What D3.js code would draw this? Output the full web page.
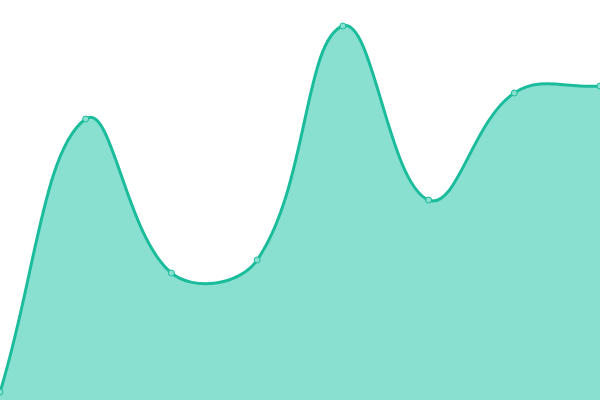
<!DOCTYPE html>
<html lang="en">

<head>
  <meta charset="UTF-8">
  <title>Area</title>
  <style>
    html,
    body {
      margin: 0;
      background: #fff;
    }

    svg {
      display: block;
    }
  </style>
</head>

<body>
  <svg id="chart" width="600" height="400"></svg>
  <script src="https://cdn.jsdelivr.net/npm/d3@7"></script>
  <script>
    // data
    var labels = ['1', '2', '3', '4', '5', '6', '7', '8']
    var values = [2, 70.25, 31.75, 35, 93.5, 50, 76.75, 78.5]

    var width = 600
    var height = 400

    // spline with distance weighted tangents (tension 0.4)
    function SplineCurve(context) {
      this._context = context
      this._t = 0.4
    }
    SplineCurve.prototype = {
      areaStart: function () { this._line = 0 },
      areaEnd: function () { this._line = NaN },
      lineStart: function () { this._pts = [] },
      point: function (x, y) { this._pts.push([+x, +y]) },
      lineEnd: function () {
        var p = this._pts, n = p.length, c = this._context, t = this._t
        if (n) {
          if (this._line) c.lineTo(p[0][0], p[0][1])
          else c.moveTo(p[0][0], p[0][1])
        }
        var cps = p.map((cur, i) => {
          var prev = p[i - 1] || cur
          var next = p[i + 1] || cur
          var d01 = Math.hypot(cur[0] - prev[0], cur[1] - prev[1])
          var d12 = Math.hypot(next[0] - cur[0], next[1] - cur[1])
          var s01 = d01 / (d01 + d12) || 0
          var s12 = d12 / (d01 + d12) || 0
          var fa = t * s01, fb = t * s12
          return {
            before: [cur[0] - fa * (next[0] - prev[0]), cur[1] - fa * (next[1] - prev[1])],
            after: [cur[0] + fb * (next[0] - prev[0]), cur[1] + fb * (next[1] - prev[1])]
          }
        })
        for (var i = 1; i < n; i++) {
          var a = cps[i - 1].after, b = cps[i].before
          c.bezierCurveTo(a[0], a[1], b[0], b[1], p[i][0], p[i][1])
        }
        if (this._line || (this._line !== 0 && n === 1)) c.closePath()
        this._line = 1 - this._line
      }
    }
    var curve = context => new SplineCurve(context)

    var x = d3.scalePoint()
      .domain(labels)
      .range([0, width])

    var y = d3.scaleLinear()
      .domain([0, 100])
      .range([height, 0])

    var data = labels.map((l, i) => ({ label: l, value: values[i] }))

    var svg = d3.select('#chart')

    var area = d3.area()
      .x(d => x(d.label))
      .y0(height)
      .y1(d => y(d.value))
      .curve(curve)

    var line = d3.line()
      .x(d => x(d.label))
      .y(d => y(d.value))
      .curve(curve)

    svg.append('path')
      .datum(data)
      .attr('fill', '#8ae0d0')
      .attr('d', area)

    svg.append('path')
      .datum(data)
      .attr('fill', 'none')
      .attr('stroke', '#1abc9c')
      .attr('stroke-width', 3)
      .attr('d', line)

    svg.append('g')
      .selectAll('circle')
      .data(data)
      .join('circle')
      .attr('cx', d => x(d.label))
      .attr('cy', d => y(d.value))
      .attr('r', 3)
      .attr('fill', '#8ae0d0')
      .attr('stroke', '#1abc9c')
      .attr('stroke-width', 1)
  </script>
</body>

</html>
